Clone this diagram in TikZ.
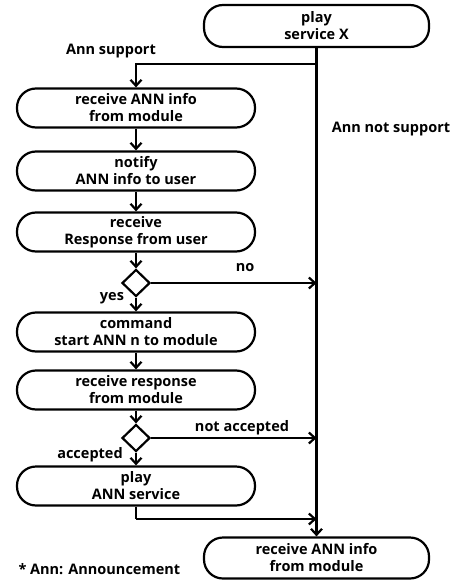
\documentclass[tikz,border=0pt]{standalone}
\usepackage{fontspec}
\setmainfont{Open Sans}
\usetikzlibrary{arrows.meta,shapes.geometric}
\tikzset{
  every node/.style={font=\bfseries\fontsize{14.5}{17}\selectfont},
  stadium/.style={draw, line width=2.2pt, rounded corners=19pt, align=center,
    minimum width=238pt, minimum height=39pt, inner sep=0pt},
  choice/.style={draw, line width=2.2pt, diamond, minimum width=28pt, minimum height=27pt, inner sep=0pt},
  flow/.style={line width=2.2pt, -{Straight Barb[length=6pt,width=11pt,line width=2.2pt]}},
  plain/.style={line width=2.2pt}
}
\begin{document}
\begin{tikzpicture}[x=1pt,y=-1pt]
  \useasboundingbox (0,0) rectangle (459,580);
  % start and end of the flow
  \node [stadium, minimum width=225pt, minimum height=42pt] (play) at (316.5,26) {play\\service X};
  \node [stadium, minimum width=225pt, minimum height=41pt] (final) at (316.5,558) {receive ANN info\\from module};
  % the steps on the left
  \foreach \nm/\yy/\txt in {
    recv/108/{receive ANN info\\from module},
    notify/171/{notify\\ANN info to user},
    resp/232/{receive\\Response from user},
    cmd/332/{command\\start ANN n to module},
    ack/390/{receive response\\from module},
    ann/486/{play\\ANN service}} {
    \node [stadium] (\nm) at (136,\yy) {\txt};
  }
  \node [choice] (ask) at (136,283) {};
  \node [choice] (check) at (136,438) {};

  % the main line down the right
  \draw [flow] (play.south) -- (final.north);
  \coordinate (split) at (play.south |- 0,64);
  \draw [flow] (split) -| (recv.north);
  \draw [flow] (recv) -- (notify);
  \draw [flow] (notify) -- (resp);
  \draw [flow] (resp) -- (ask);
  \draw [flow] (ask) -- (cmd);
  \draw [flow] (cmd) -- (ack);
  \draw [flow] (ack) -- (check);
  \draw [flow] (check) -- (ann);
  \draw [flow] (ask.east) -- (ask -| play.south);
  \draw [flow] (check.east) -- (check -| play.south);
  \coordinate (back) at (ann.south |- 0,519);
  \draw [plain] (ann.south) -- (back);
  \draw [flow] (back) -- (back -| play.south);

  % labels
  \node at (111,51) {Ann support};
  \node at (391,129) {Ann not support};
  \node at (245,268) {no};
  \node at (112,298) {yes};
  \node at (242,428) {not accepted};
  \node at (90,455) {accepted};
  \node [anchor=west] at (15,569) {* Ann: Announcement};
\end{tikzpicture}
\end{document}
